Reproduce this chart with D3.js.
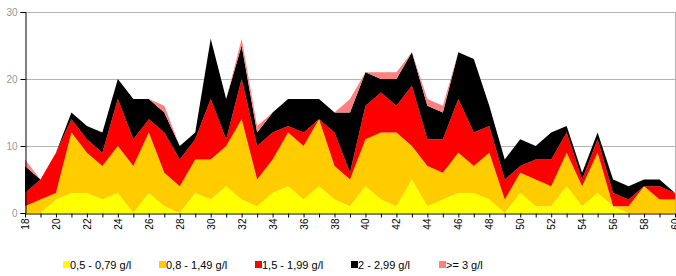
<!DOCTYPE html>
<html>
<head>
<meta charset="utf-8">
<script src="https://cdn.jsdelivr.net/npm/d3@7"></script>
<style>
    body { margin: 0; background: #fff; }
    svg { font-family: "Liberation Sans", Arial, sans-serif; }
</style>
</head>
<body>
<svg width="676" height="276"></svg>
<script>
var ages = [18, 19, 20, 21, 22, 23, 24, 25, 26, 27, 28, 29, 30, 31, 32, 33, 34, 35, 36, 37, 38, 39,
    40, 41, 42, 43, 44, 45, 46, 47, 48, 49, 50, 51, 52, 53, 54, 55, 56, 57, 58, 59, 60];

var yellow = [0, 0, 2, 3, 3, 2, 3, 0, 3, 1, 0, 3, 2, 4, 2, 1, 3, 4, 2, 4, 2, 1,
    4, 2, 1, 5, 1, 2, 3, 3, 2, 0, 3, 1, 1, 4, 1, 3, 1, 0, 0, 0, 0];
var orange = [1, 2, 1, 9, 6, 5, 7, 7, 9, 5, 4, 5, 6, 6, 12, 4, 5, 8, 8, 10, 5, 4,
    7, 10, 11, 5, 6, 4, 6, 4, 7, 2, 3, 4, 3, 5, 3, 6, 0, 1, 4, 2, 2];
var red = [2, 3, 6, 2, 2, 2, 7, 4, 2, 6, 4, 3, 9, 1, 6, 5, 4, 1, 2, 0, 5, 1,
    5, 6, 4, 9, 4, 5, 8, 5, 4, 3, 1, 3, 4, 3, 1, 2, 2, 1, 0, 2, 1];
var black = [4, 0, 0, 1, 2, 3, 3, 6, 3, 3, 2, 1, 9, 6, 5, 2, 3, 4, 5, 3, 3, 9,
    5, 2, 4, 5, 5, 4, 7, 11, 3, 3, 4, 2, 4, 1, 1, 1, 2, 2, 1, 1, 0];
var pink = [1, 0, 0, 0, 0, 0, 0, 0, 0, 1, 0, 0, 0, 0, 1, 1, 0, 0, 0, 0, 0, 2,
    0, 1, 1, 0, 1, 1, 0, 0, 0, 0, 0, 0, 0, 0, 0, 0, 0, 0, 0, 0, 0];

var seriesKeys = ["yellow", "orange", "red", "black", "pink"];
var seriesLabels = ["0,5 - 0,79 g/l", "0,8 - 1,49 g/l", "1,5 - 1,99 g/l", "2 - 2,99 g/l", ">= 3 g/l"];
var seriesColors = ["#ffff00", "#ffcc00", "#ff0000", "#000000", "#ff8080"];
var yTicks = [0, 10, 20, 30];

function start() {
    window.svg = d3.select("svg");

    window.rows = ages.map(function (a, i) {
        return {age: a, yellow: yellow[i], orange: orange[i], red: red[i], black: black[i], pink: pink[i]};
    });

    window.x = d3.scaleLinear().domain([18, 60]).range([25, 675]);
    window.y = d3.scaleLinear().domain([0, 30]).range([213, 12]);

    window.layers = d3.stack().keys(seriesKeys)(rows);

    draw();
}

function draw() {
    // grid and frame
    svg.append("g")
        .attr("class", "grid")
        .selectAll("line")
        .data(yTicks.slice(1))
        .enter().append("line")
        .attr("x1", x(18)).attr("x2", x(60))
        .attr("y1", function (d) { return Math.round(y(d)) + 0.5; })
        .attr("y2", function (d) { return Math.round(y(d)) + 0.5; })
        .attr("stroke", "#b4b4b4");

    svg.append("line")
        .attr("x1", x(60) + 0.5).attr("x2", x(60) + 0.5)
        .attr("y1", y(30)).attr("y2", y(0))
        .attr("stroke", "#b4b4b4");

    var area = d3.area()
        .x(function (d) { return x(d.data.age); })
        .y0(function (d) { return y(d[0]); })
        .y1(function (d) { return y(d[1]); });

    svg.append("g")
        .attr("class", "layers")
        .selectAll("path")
        .data(layers)
        .enter().append("path")
        .attr("fill", function (d, i) { return seriesColors[i]; })
        .attr("d", area);

    // y axis
    var yAxis = svg.append("g")
        .attr("transform", "translate(" + (x(18) + 0.5) + ",0)")
        .call(d3.axisLeft(y).tickValues(yTicks).tickSize(5).tickPadding(3));
    yAxis.select(".domain").attr("stroke", "#000");
    yAxis.selectAll(".tick line").attr("stroke", "#000");
    yAxis.selectAll("text")
        .attr("fill", "#999")
        .style("font-size", "10px")
        .style("font-family", "Liberation Sans, Arial, sans-serif");

    // x axis
    var xAxis = svg.append("g")
        .attr("transform", "translate(0," + (y(0) + 0.5) + ")")
        .call(d3.axisBottom(x).tickValues(ages).tickSize(4).tickSizeOuter(0)
            .tickFormat(function (d) { return d % 2 === 0 ? d : ""; }));
    xAxis.select(".domain").attr("stroke", "#000");
    xAxis.selectAll(".tick line").attr("stroke", "#000");
    xAxis.selectAll("text")
        .attr("fill", "#000")
        .attr("transform", "rotate(-90)")
        .attr("text-anchor", "end")
        .attr("x", -5)
        .attr("y", 0)
        .attr("dy", "0.35em")
        .style("font-size", "10px")
        .style("font-family", "Liberation Sans, Arial, sans-serif");

    // legend
    var legendX = [63, 159, 255, 351, 439];
    var legend = svg.append("g")
        .attr("class", "legend")
        .selectAll("g")
        .data(seriesLabels)
        .enter().append("g")
        .attr("transform", function (d, i) { return "translate(" + legendX[i] + ",261)"; });

    legend.append("rect")
        .attr("width", 7).attr("height", 7)
        .attr("fill", function (d, i) { return seriesColors[i]; });

    legend.append("text")
        .attr("x", 7)
        .attr("y", 8)
        .style("font-size", "11px")
        .text(function (d) { return d; });
}

start();
</script>
</body>
</html>
